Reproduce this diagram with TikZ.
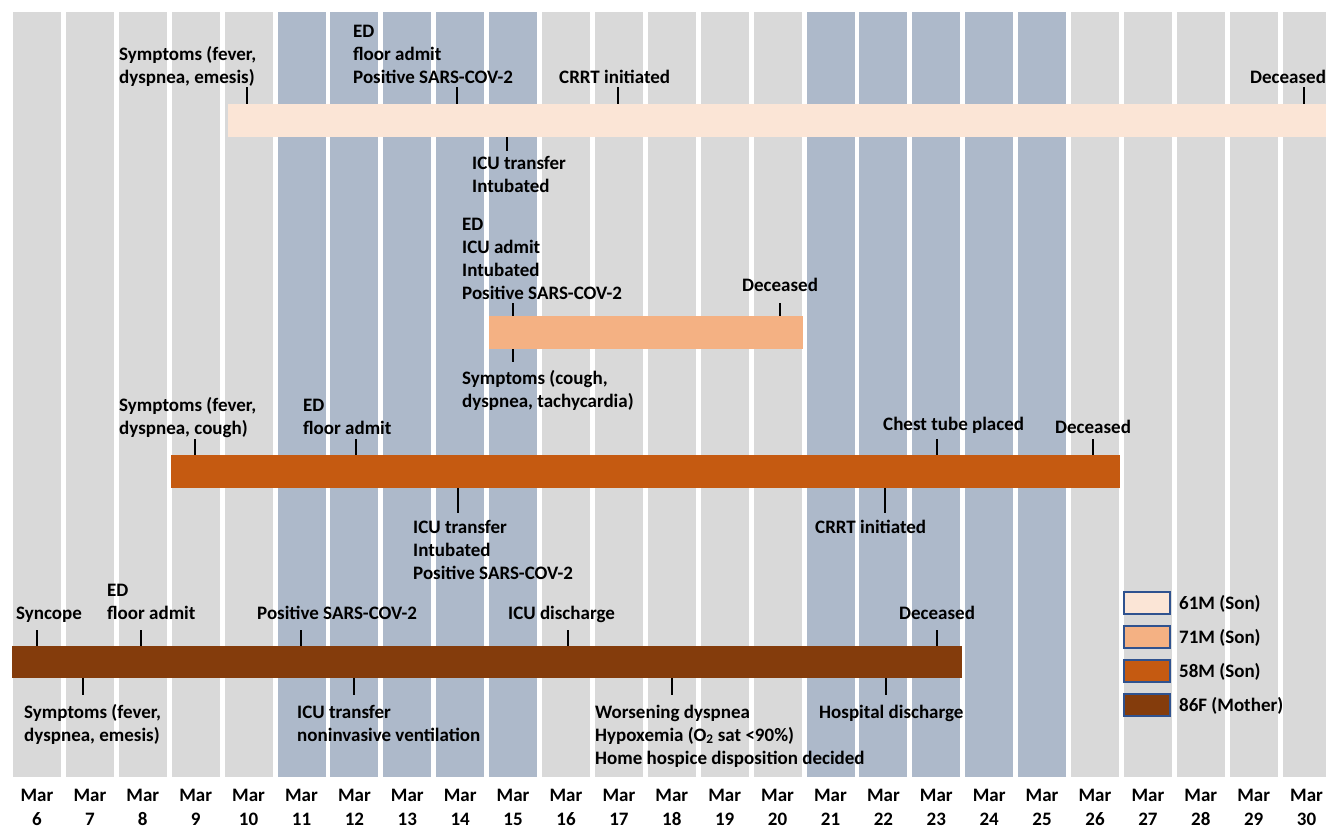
\documentclass[tikz,border=0pt]{standalone}
\usepackage{fontspec}
\setmainfont{Carlito}
\usepackage{tikz}

\definecolor{colgray}{HTML}{D9D9D9}
\definecolor{colblue}{HTML}{ADB9CA}
\definecolor{c61}{HTML}{FBE5D6}
\definecolor{c71}{HTML}{F4B183}
\definecolor{c58}{HTML}{C55A11}
\definecolor{c86}{HTML}{843C0C}
\definecolor{keyline}{HTML}{2F528F}

\newcommand\evtfont{\fontsize{19}{23}\selectfont\bfseries}

\tikzset{
  evt/.style={anchor=base west, align=left, inner sep=0pt, font=\evtfont},
  tick/.style={line width=1.5pt},
  daycol/.style={minimum width=48pt, minimum height=765pt, inner sep=0pt},
  bar/.style={anchor=north west, inner sep=0pt, minimum height=33pt},
  date/.style={anchor=base, align=center, inner sep=0pt, font=\fontsize{19}{24}\selectfont\bfseries},
  key/.style={draw=keyline, line width=1.5pt, minimum width=46pt, minimum height=22pt, inner sep=0pt},
  keytext/.style={anchor=base west, inner sep=0pt, font=\evtfont}
}

\begin{document}
\begin{tikzpicture}[x=1pt, y=-1pt]
\useasboundingbox (0,0) rectangle (1326,828);
\clip (0,0) rectangle (1326,828);
% day columns
\foreach \d in {6,7,8,9,10,16,17,18,19,20,26,27,28,29,30}
  \node[daycol, fill=colgray] (col\d) at ({37+52.9*(\d-6)},394.5) {};
\foreach \d in {11,12,13,14,15,21,22,23,24,25}
  \node[daycol, fill=colblue] (col\d) at ({37+52.9*(\d-6)},394.5) {};
\foreach \d in {6,...,30}
  \node[date] (mar\d) at ({37+52.9*(\d-6)},825) {Mar\\\d};
%
% 61M (Son)
\node[bar, fill=c61, minimum width=1110pt] (bar61) at (228,104) {};
\node[evt] (sym61) at (119,83) {Symptoms (fever,\\dyspnea, emesis)};
\coordinate (sym61t) at (247,87);
\draw[tick] (sym61t) -- (sym61t |- bar61.north);
%
\node[evt] (ed61) at (353,83) {ED\\floor admit\\Positive SARS-COV-2};
\coordinate (ed61t) at (457,87);
\draw[tick] (ed61t) -- (ed61t |- bar61.north);
%
\node[evt] (crrt61) at (559,83) {CRRT initiated};
\coordinate (crrt61t) at (618,87);
\draw[tick] (crrt61t) -- (crrt61t |- bar61.north);
%
\node[evt] (dec61) at (1250,83) {Deceased};
\coordinate (dec61t) at (1304,87);
\draw[tick] (dec61t) -- (dec61t |- bar61.north);
%
\node[evt] (icu61) at (472,192) {ICU transfer\\Intubated};
\coordinate (icu61t) at (507,151);
\draw[tick] (icu61t |- bar61.south) -- (icu61t);
%
% 71M (Son)
\node[bar, fill=c71, minimum width=314pt] (bar71) at (489,316) {};
\node[evt] (ed71) at (462,299) {ED\\ICU admit\\Intubated\\Positive SARS-COV-2};
\coordinate (ed71t) at (513,303);
\draw[tick] (ed71t) -- (ed71t |- bar71.north);
%
\node[evt] (dec71) at (742,291) {Deceased};
\coordinate (dec71t) at (780,303);
\draw[tick] (dec71t) -- (dec71t |- bar71.north);
%
\node[evt] (sym71) at (462,407) {Symptoms (cough,\\dyspnea, tachycardia)};
\coordinate (sym71t) at (513,362);
\draw[tick] (sym71t |- bar71.south) -- (sym71t);
%
% 58M (Son)
\node[bar, fill=c58, minimum width=949pt] (bar58) at (171,455) {};
\node[evt] (sym58) at (119,434) {Symptoms (fever,\\dyspnea, cough)};
\coordinate (sym58t) at (195,439);
\draw[tick] (sym58t) -- (sym58t |- bar58.north);
%
\node[evt] (ed58) at (303,434) {ED\\floor admit};
\coordinate (ed58t) at (356,439);
\draw[tick] (ed58t) -- (ed58t |- bar58.north);
%
\node[evt] (chest58) at (883,430) {Chest tube placed};
\coordinate (chest58t) at (937,439);
\draw[tick] (chest58t) -- (chest58t |- bar58.north);
%
\node[evt] (dec58) at (1055,433) {Deceased};
\coordinate (dec58t) at (1093,439);
\draw[tick] (dec58t) -- (dec58t |- bar58.north);
%
\node[evt] (icu58) at (413,579) {ICU transfer\\Intubated\\Positive SARS-COV-2};
\coordinate (icu58t) at (458,513);
\draw[tick] (icu58t |- bar58.south) -- (icu58t);
%
\node[evt] (crrt58) at (815,533) {CRRT initiated};
\coordinate (crrt58t) at (885,513);
\draw[tick] (crrt58t |- bar58.south) -- (crrt58t);
%
% 86F (Mother)
\node[bar, fill=c86, minimum width=950pt, minimum height=32pt] (bar86) at (12,646) {};
\node[evt] (sync86) at (16,619) {Syncope};
\coordinate (sync86t) at (37,630);
\draw[tick] (sync86t) -- (sync86t |- bar86.north);
%
\node[evt] (ed86) at (107,619) {ED\\floor admit};
\coordinate (ed86t) at (141,630);
\draw[tick] (ed86t) -- (ed86t |- bar86.north);
%
\node[evt] (pos86) at (257,619) {Positive SARS-COV-2};
\coordinate (pos86t) at (301,630);
\draw[tick] (pos86t) -- (pos86t |- bar86.north);
%
\node[evt] (icud86) at (508,619) {ICU discharge};
\coordinate (icud86t) at (568,630);
\draw[tick] (icud86t) -- (icud86t |- bar86.north);
%
\node[evt] (dec86) at (899,619) {Deceased};
\coordinate (dec86t) at (937,630);
\draw[tick] (dec86t) -- (dec86t |- bar86.north);
%
\node[evt] (sym86) at (24,741) {Symptoms (fever,\\dyspnea, emesis)};
\coordinate (sym86t) at (83,695);
\draw[tick] (sym86t |- bar86.south) -- (sym86t);
%
\node[evt] (icu86) at (297,741) {ICU transfer\\noninvasive ventilation};
\coordinate (icu86t) at (354,695);
\draw[tick] (icu86t |- bar86.south) -- (icu86t);
%
\node[evt] (worse86) at (595,764) {Worsening dyspnea\\Hypoxemia (O\textsubscript{2} sat <90\%)\\Home hospice disposition decided};
\coordinate (worse86t) at (672,695);
\draw[tick] (worse86t |- bar86.south) -- (worse86t);
%
\node[evt] (hosp86) at (819,718) {Hospital discharge};
\coordinate (hosp86t) at (886,695);
\draw[tick] (hosp86t |- bar86.south) -- (hosp86t);
%
% legend
\node[key, fill=c61] (key61) at (1147,603) {};
\node[key, fill=c71] (key71) at (1147,637) {};
\node[key, fill=c58] (key58) at (1147,671) {};
\node[key, fill=c86] (key86) at (1147,705) {};
\node[keytext] (lab61) at (1179,609) {61M (Son)};
\node[keytext] (lab71) at (1179,643) {71M (Son)};
\node[keytext] (lab58) at (1179,677) {58M (Son)};
\node[keytext] (lab86) at (1179,711) {86F (Mother)};
\end{tikzpicture}
\end{document}
